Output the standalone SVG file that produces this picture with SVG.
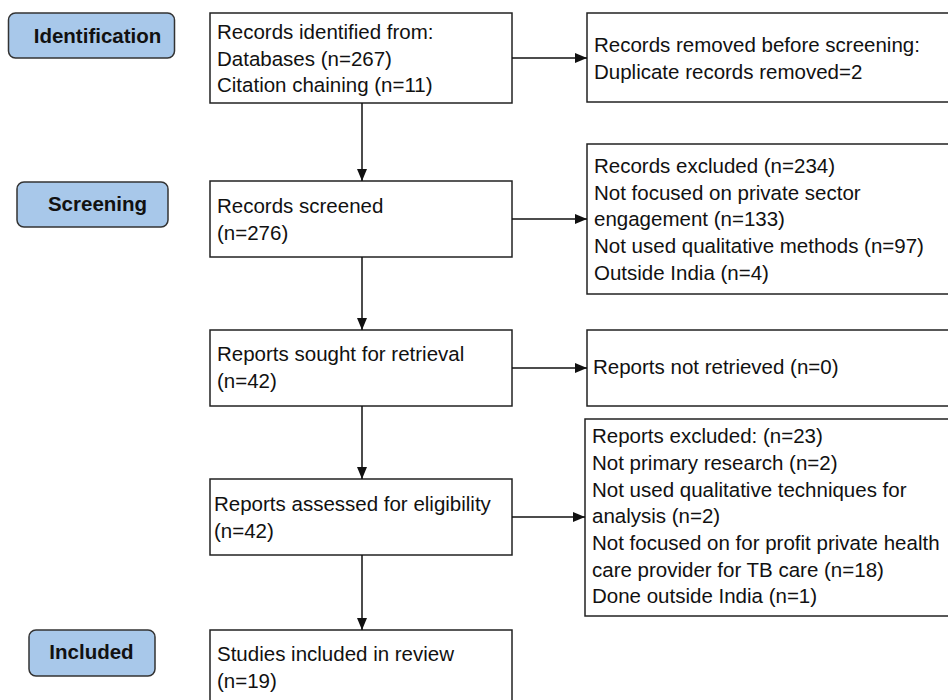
<svg xmlns="http://www.w3.org/2000/svg" width="948" height="700" viewBox="0 0 948 700">
<defs>
<marker id="ah" viewBox="0 0 12 10" refX="12" refY="5" markerWidth="12" markerHeight="10" markerUnits="userSpaceOnUse" orient="auto">
<path d="M0,0 L12,5 L0,10 Z" fill="#111"/>
</marker>
<style>
.box{fill:#fff;stroke:#222;stroke-width:1.5}
.lab{fill:#a8c8ea;stroke:#333;stroke-width:1.5}
.t{font-family:"Liberation Sans",Arial,sans-serif;font-size:20.5px;fill:#111}
.b{font-family:"Liberation Sans",Arial,sans-serif;font-size:20.5px;font-weight:bold;fill:#111}
.c{stroke:#111;stroke-width:1.5;fill:none;marker-end:url(#ah)}
</style>
</defs>
<rect width="948" height="700" fill="#fff"/>
<g id="label-identification"><rect class="lab" x="8.5" y="13" width="166" height="45" rx="7"/><text class="b" x="97.5" y="43" text-anchor="middle">Identification</text></g>
<g id="label-screening"><rect class="lab" x="17" y="182" width="151" height="45" rx="7"/><text class="b" x="97.5" y="211" text-anchor="middle">Screening</text></g>
<g id="label-included"><rect class="lab" x="29" y="630" width="126" height="46" rx="7"/><text class="b" x="91.5" y="659" text-anchor="middle">Included</text></g>

<g id="n-identified"><rect class="box" x="210" y="13" width="302" height="90"/>
<text class="t" x="217" y="39">Records identified from:</text>
<text class="t" x="217" y="65.5">Databases (n=267)</text>
<text class="t" x="217" y="92">Citation chaining (n=11)</text></g>

<g id="n-removed"><rect class="box" x="587" y="13" width="370" height="89"/>
<text class="t" x="594" y="52">Records removed before screening:</text>
<text class="t" x="594" y="79">Duplicate records removed=2</text></g>

<g id="n-screened"><rect class="box" x="210" y="181" width="302" height="76"/>
<text class="t" x="217" y="213">Records screened</text>
<text class="t" x="217" y="239.5">(n=276)</text></g>

<g id="n-excluded"><rect class="box" x="587" y="144" width="370" height="150"/>
<text class="t" x="594" y="173">Records excluded (n=234)</text>
<text class="t" x="594" y="199.5">Not focused on private sector</text>
<text class="t" x="594" y="226">engagement (n=133)</text>
<text class="t" x="594" y="253">Not used qualitative methods (n=97)</text>
<text class="t" x="594" y="279.5">Outside India (n=4)</text></g>

<g id="n-sought"><rect class="box" x="210" y="330" width="302" height="76"/>
<text class="t" x="217" y="361">Reports sought for retrieval</text>
<text class="t" x="217" y="388">(n=42)</text></g>

<g id="n-notretrieved"><rect class="box" x="587" y="330" width="370" height="76"/>
<text class="t" x="593" y="374">Reports not retrieved (n=0)</text></g>

<g id="n-assessed"><rect class="box" x="210" y="479" width="302" height="76"/>
<text class="t" x="214" y="511">Reports assessed for eligibility</text>
<text class="t" x="214" y="537.5">(n=42)</text></g>

<g id="n-repexcluded"><rect class="box" x="585" y="419" width="372" height="197"/>
<text class="t" x="592" y="443">Reports excluded: (n=23)</text>
<text class="t" x="592" y="470">Not primary research (n=2)</text>
<text class="t" x="592" y="496.5">Not used qualitative techniques for</text>
<text class="t" x="592" y="523">analysis (n=2)</text>
<text class="t" x="592" y="550">Not focused on for profit private health</text>
<text class="t" x="592" y="576.5">care provider for TB care (n=18)</text>
<text class="t" x="592" y="603">Done outside India (n=1)</text></g>

<g id="n-included"><rect class="box" x="210" y="630" width="302" height="90"/>
<text class="t" x="217" y="661">Studies included in review</text>
<text class="t" x="217" y="688">(n=19)</text></g>

<g id="connectors">
<line class="c" x1="362" y1="103" x2="362" y2="181"/>
<line class="c" x1="362" y1="257" x2="362" y2="330"/>
<line class="c" x1="362" y1="406" x2="362" y2="479"/>
<line class="c" x1="362" y1="555" x2="362" y2="630"/>
<line class="c" x1="512" y1="58" x2="587" y2="58"/>
<line class="c" x1="512" y1="219" x2="587" y2="219"/>
<line class="c" x1="512" y1="368" x2="587" y2="368"/>
<line class="c" x1="512" y1="517" x2="585" y2="517"/>
</g>
</svg>
